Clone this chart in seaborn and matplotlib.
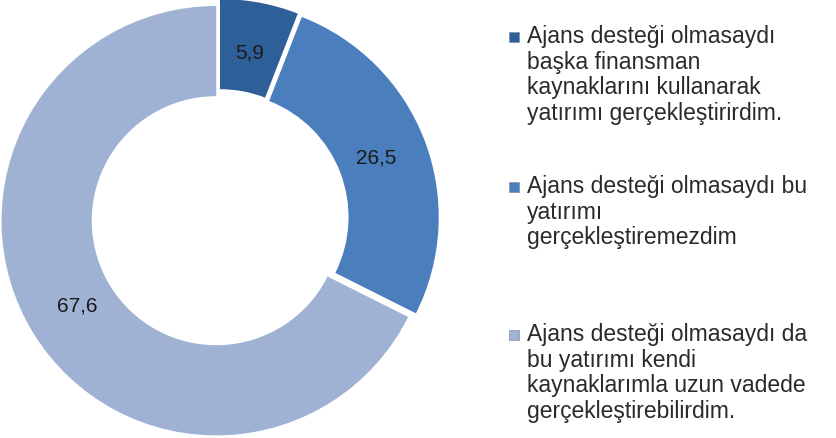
import matplotlib
matplotlib.use("Agg")
import matplotlib.pyplot as plt
import seaborn as sns
from matplotlib.patches import Rectangle

categories = [
    "Ajans desteği olmasaydı\nbaşka finansman\nkaynaklarını kullanarak\nyatırımı gerçekleştirirdim.",
    "Ajans desteği olmasaydı bu\nyatırımı\ngerçekleştiremezdim",
    "Ajans desteği olmasaydı da\nbu yatırımı kendi\nkaynaklarımla uzun vadede\ngerçekleştirebilirdim.",
]
values = [5.9, 26.5, 67.6]
colors = ["#2F5F99", "#4A7EBD", "#A0B2D3"]

sns.set_theme(style="white")
plt.rcParams['font.family'] = ['Liberation Sans', 'DejaVu Sans']

fig = plt.figure(figsize=(8.36, 4.38), dpi=100)
ax = fig.add_axes([0.0, 0.0, 438 / 836, 1.0])
ax.set_aspect("equal")

wedges, texts, autotexts = ax.pie(
    values,
    colors=colors,
    startangle=90,
    counterclock=False,
    explode=[0.025, 0.025, 0.015],
    radius=1.0,
    wedgeprops=dict(width=0.42, edgecolor="none"),
    autopct=lambda p: f"{p:.1f}".replace(".", ","),
    pctdistance=0.76,
    textprops=dict(fontsize=15, color="#1a1a1a"),
)
ax.set_xlim(-1.02, 1.02)
ax.set_ylim(-1.02, 1.02)
ax.axis("off")

# Legend (manual layout to match reference)
W, H = 836, 438
tops = [37, 187, 335]  # vertical centre of first line of each entry (px)
for lab, col, yc in zip(categories, colors, tops):
    fig.patches.append(Rectangle((509 / W, 1 - (yc + 5) / H), 10 / W, 10 / H,
                                 transform=fig.transFigure, facecolor=col,
                                 edgecolor="#8090a8", linewidth=0.5))
    fig.text(527 / W, 1 - (yc - 12) / H, lab, fontsize=16.5, color="#2a2a2a",
             va="top", ha="left", linespacing=1.14,
             transform=fig.transFigure)

fig.savefig("out.png", dpi=100)
